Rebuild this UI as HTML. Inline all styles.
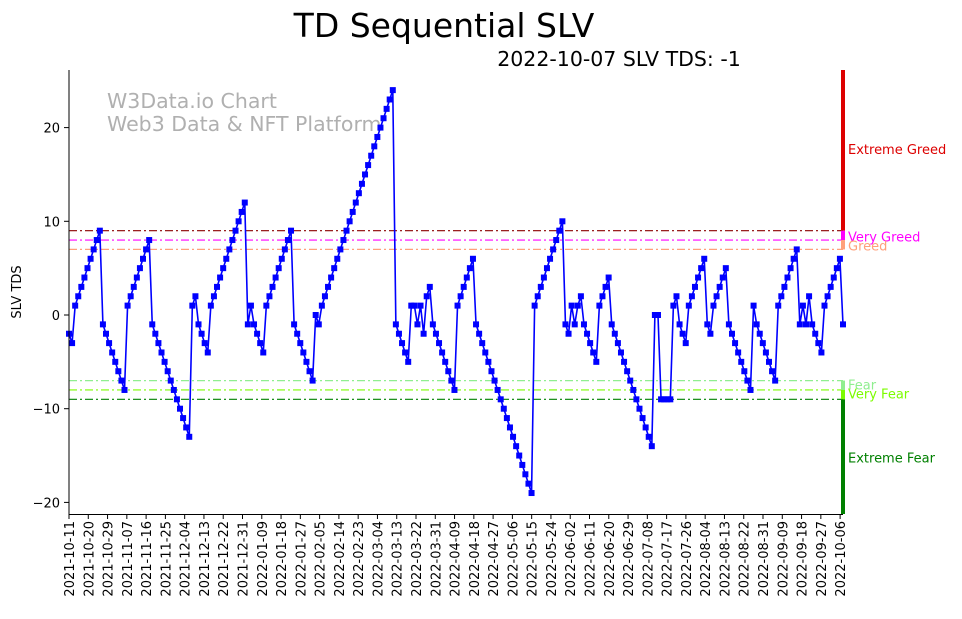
<!DOCTYPE html>
<html><head><meta charset="utf-8"><style>
body{margin:0;background:#fff;}
svg{font-family:"DejaVu Sans","Liberation Sans",sans-serif;}
</style></head><body>
<svg id="chart" width="962" height="614" xmlns="http://www.w3.org/2000/svg">
<text x="444" y="37" font-size="33" text-anchor="middle">TD Sequential SLV</text>
<text x="619" y="66" font-size="20.5" text-anchor="middle">2022-10-07 SLV TDS: -1</text>
<text x="107" y="108" font-size="20.5" fill="#b0b0b0">W3Data.io Chart</text>
<text x="107" y="131" font-size="20.5" fill="#b0b0b0">Web3 Data &amp; NFT Platform</text>
<text transform="translate(21,292) rotate(-90)" font-size="13" text-anchor="middle">SLV TDS</text>
<g id="levels"></g><g id="yaxis"></g><g id="xaxis"></g><g id="series"></g><g id="zones"></g>
<line x1="69" y1="70" x2="69" y2="515" stroke="#000"/>
<line x1="69" y1="514.5" x2="843" y2="514.5" stroke="#000"/>
</svg>
<script>
const yTicks=[20,10,0,-10,-20];
const levelValues=[9,8,7,-7,-8,-9];
const levelColors=['#8b0000','#ff00ff','#ffa07a','#90ee90','#7cfc00','#008000'];
const zoneLabels=['Extreme Greed','Very Greed','Greed','Fear','Very Fear','Extreme Fear'];
const zoneLabelValues=[17.7,8.4,7.4,-7.4,-8.4,-15.2];
const tdValues=[-2,-3,1,2,3,4,5,6,7,8,9,
-1,-2,-3,-4,-5,-6,-7,-8,
1,2,3,4,5,6,7,8,
-1,-2,-3,-4,-5,-6,-7,-8,-9,-10,-11,-12,-13,
1,2,-1,-2,-3,-4,
1,2,3,4,5,6,7,8,9,10,11,12,
-1,1,-1,-2,-3,-4,
1,2,3,4,5,6,7,8,9,
-1,-2,-3,-4,-5,-6,-7,
0,-1,1,2,3,4,5,6,7,8,9,10,11,12,13,14,15,16,17,18,19,20,21,22,23,24,
-1,-2,-3,-4,-5,
1,1,-1,1,-2,2,3,
-1,-2,-3,-4,-5,-6,-7,-8,
1,2,3,4,5,6,
-1,-2,-3,-4,-5,-6,-7,-8,-9,-10,-11,-12,-13,-14,-15,-16,-17,-18,-19,
1,2,3,4,5,6,7,8,9,10,
-1,-2,1,-1,1,2,
-1,-2,-3,-4,-5,
1,2,3,4,
-1,-2,-3,-4,-5,-6,-7,-8,-9,-10,-11,-12,-13,-14,
0,0,-9,-9,-9,-9,
1,2,-1,-2,-3,
1,2,3,4,5,6,
-1,-2,1,2,3,4,5,
-1,-2,-3,-4,-5,-6,-7,-8,
1,-1,-2,-3,-4,-5,-6,-7,
1,2,3,4,5,6,7,
-1,1,-1,2,-1,-2,-3,-4,
1,2,3,4,5,6,-1];
const startDate='2021-10-11', tickStepDays=9, tickCount=41;

const NS='http://www.w3.org/2000/svg';
const X0=69,X1=843,Y0=315,PXU=9.37,PXDAY=2.142;
const yS=v=>Y0-v*PXU;
const xI=i=>X0+i*(X1-X0)/(tdValues.length-1);
function mk(t,a,p){const e=document.createElementNS(NS,t);for(const k in a)e.setAttribute(k,a[k]);p.appendChild(e);return e;}
const ya=document.getElementById('yaxis');
yTicks.forEach(v=>{
 const l=mk('line',{x1:64,x2:69,y1:yS(v),y2:yS(v),stroke:'#000'},ya);
 
 
 const t=mk('text',{x:60,y:yS(v)+5,'font-size':13,'text-anchor':'end'},ya);t.textContent=v<0?'\u2212'+(-v):v;
 
 
});
const xa=document.getElementById('xaxis');
const d0=new Date(startDate+'T00:00:00Z');
for(let k=0;k<tickCount;k++){
 const dd=new Date(d0.getTime()+k*tickStepDays*86400000);
 if(dd>new Date('2022-10-07T00:00:00Z'))break;
 const x=X0+k*tickStepDays*PXDAY;
 const l=mk('line',{x1:x,x2:x,y1:514,y2:519,stroke:'#000'},xa);
 
 
 const t=mk('text',{transform:`translate(${x+5},521) rotate(-90)`,'font-size':13,'text-anchor':'end'},xa);
 t.textContent=dd.toISOString().slice(0,10);
 
 
}
const lv=document.getElementById('levels');
levelValues.forEach((v,i)=>{
 const l=mk('line',{x1:X0,x2:X1,y1:yS(v),y2:yS(v),stroke:levelColors[i],'stroke-width':1.2,'stroke-dasharray':'8,3,2,3'},lv);
 
 
});
const zn=document.getElementById('zones');
const topV=(Y0-70)/PXU, botV=(Y0-514)/PXU;
const bands=[[topV,9],[9,8],[8,7],[-7,-8],[-8,-9],[-9,botV]];
bands.forEach((b,i)=>{
 const r=mk('rect',{x:841,width:4,y:yS(b[0]),height:yS(b[1])-yS(b[0]),fill:i==0?'#dd0000':levelColors[i]},zn);
 
 
 const t=mk('text',{x:848,y:yS(zoneLabelValues[i])+5,'font-size':13,fill:i==0?'#dd0000':levelColors[i]},zn);
 t.textContent=zoneLabels[i];
 
 
});
const sr=document.getElementById('series');
const pl=mk('polyline',{points:tdValues.map((v,i)=>xI(i)+','+yS(v)).join(' '),fill:'none',stroke:'#0000ff','stroke-width':1.6},sr);


tdValues.forEach((v,i)=>{
 const r=mk('rect',{x:xI(i)-3,y:yS(v)-3,width:6,height:6,fill:'#0000ff'},sr);
 
 
});
</script>
</body></html>
